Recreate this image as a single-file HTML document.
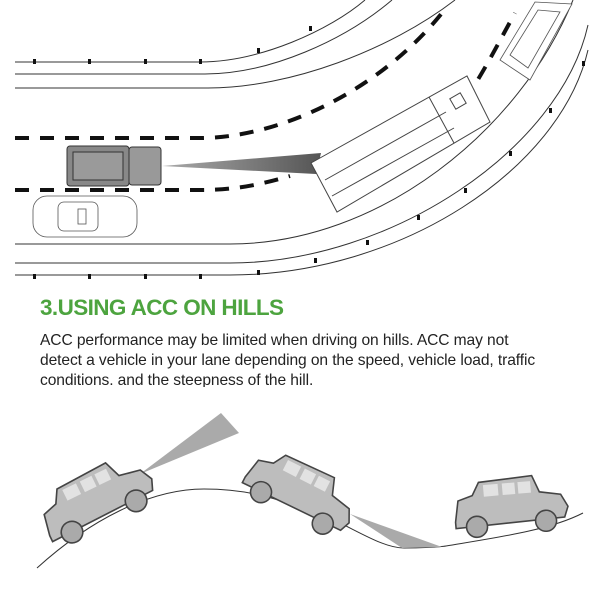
<!DOCTYPE html>
<html><head><meta charset="utf-8"><style>
body{margin:0;width:600px;height:600px;background:#fff;overflow:hidden;position:relative;font-family:"Liberation Sans",sans-serif}
svg{position:absolute;left:0;top:0}
.t{position:absolute;left:40px;top:295px;color:#4da43f;font-weight:bold;font-size:22.5px;letter-spacing:-0.6px}
.p{position:absolute;left:40px;top:331px;width:560px;height:56px;overflow:hidden;font-size:15.6px;line-height:20px;color:#222;white-space:nowrap;letter-spacing:-0.1px}
</style></head><body>
<svg width="600" height="600" viewBox="0 0 600 600">
<defs>
<linearGradient id="bm" x1="0" x2="1"><stop offset="0" stop-color="#aaa"/><stop offset="1" stop-color="#555"/></linearGradient>
<g id="jeep">
<path d="M2,38 L6,18 L20,14 L27,2 L78,0 L84,16 L104,20 L110,32 L106,42 L2,44 Z" fill="#bdbdbd" stroke="#444" stroke-width="1.5"/>
<rect x="31" y="5" width="14" height="11" fill="#e2e2e2"/><rect x="49" y="5" width="12" height="11" fill="#e2e2e2"/><rect x="64" y="5" width="12" height="11" fill="#e2e2e2"/>
<circle cx="22" cy="44" r="10" fill="#aaa" stroke="#444" stroke-width="1.5"/>
<circle cx="88" cy="44" r="10" fill="#aaa" stroke="#444" stroke-width="1.5"/>
</g>
</defs>
<g fill="none" stroke="#333" stroke-width="1">
<path d="M15,62 L200,62 C260,62 330,30 365,0"/>
<path d="M15,74 L205,74 C270,74 345,40 392,0"/>
<path d="M15,88 L208,88 C290,88 390,50 455,0"/>
<path d="M15,244 L230,244 C380,244 520,130 573,0"/>
<path d="M15,263 L230,263 C390,263 560,150 588,25"/>
<path d="M15,275 L230,275 C400,275 560,170 588,50"/>
</g>
<g fill="none" stroke="#111" stroke-width="4" stroke-dasharray="14,11">
<path d="M15,138 L200,138 C280,138 380,90 442,13"/>
<path d="M15,190 L200,190 C240,190 265,183 290,176"/>
<path d="M465,100 C485,70 500,40 515,13"/>
</g>
<g fill="#111">
<rect x="33" y="59" width="3" height="5"/><rect x="88" y="59" width="3" height="5"/><rect x="144" y="59" width="3" height="5"/><rect x="199" y="59" width="3" height="5"/><rect x="257" y="48" width="3" height="5"/><rect x="309" y="26" width="3" height="5"/>
<rect x="33" y="274" width="3" height="5"/><rect x="88" y="274" width="3" height="5"/><rect x="144" y="274" width="3" height="5"/><rect x="199" y="274" width="3" height="5"/><rect x="257" y="270" width="3" height="5"/><rect x="314" y="258" width="3" height="5"/><rect x="366" y="240" width="3" height="5"/><rect x="417" y="215" width="3" height="5"/><rect x="464" y="188" width="3" height="5"/><rect x="509" y="151" width="3" height="5"/><rect x="549" y="108" width="3" height="5"/><rect x="582" y="61" width="3" height="5"/>
</g>
<polygon points="162,166 321,153 316,174" fill="url(#bm)"/>
<g fill="#fff" stroke="#444" stroke-width="1">
<polygon points="311,163 467,76 490,122 337,212"/>
<line x1="429" y1="97" x2="454" y2="143"/>
<line x1="325" y1="180" x2="446" y2="112"/><line x1="332" y1="196" x2="454" y2="128"/>
<rect x="452" y="95" width="12" height="12" transform="rotate(-30 458 101)"/>
</g>
<g stroke="#333" stroke-width="1">
<rect x="67" y="146" width="62" height="40" rx="3" fill="#888"/>
<rect x="129" y="147" width="32" height="38" rx="3" fill="#999"/>
<rect x="73" y="152" width="50" height="28" fill="#9a9a9a"/>
</g>
<g fill="#fff" stroke="#555" stroke-width="0.8">
<rect x="33" y="196" width="104" height="41" rx="14"/>
<rect x="58" y="202" width="40" height="29" rx="6"/>
<rect x="78" y="209" width="8" height="15"/>
<polygon points="500,60 535,2 572,4 530,80"/>
<polygon points="510,55 538,10 560,12 528,68"/>
</g>
<path d="M37,568 C90,520 150,489 204,489 C260,489 290,505 315,512 C350,525 380,548 404,548 C420,548 440,547 446,546 C500,537 550,530 583,513" fill="none" stroke="#333" stroke-width="1"/>
<polygon points="140,474 221,413 239,433" fill="#aaa"/>
<polygon points="350,514 402,548 442,547" fill="#aaa"/>
<g transform="translate(96,500) rotate(-26) scale(1.08) translate(-55,-27)"><use href="#jeep"/></g>
<g transform="translate(300,492) rotate(27) scale(1.05) translate(-55,-27)"><use href="#jeep"/></g>
<g transform="translate(510,506) rotate(-5) scale(1.05) translate(-55,-27)"><use href="#jeep"/></g>
</svg>
<div class="t">3.USING ACC ON HILLS</div>
<div class="p">ACC performance may be limited when driving on hills. ACC may not<br>detect a vehicle in your lane depending on the speed, vehicle load, traffic<br>conditions. and the steepness of the hill.</div>
</body></html>
